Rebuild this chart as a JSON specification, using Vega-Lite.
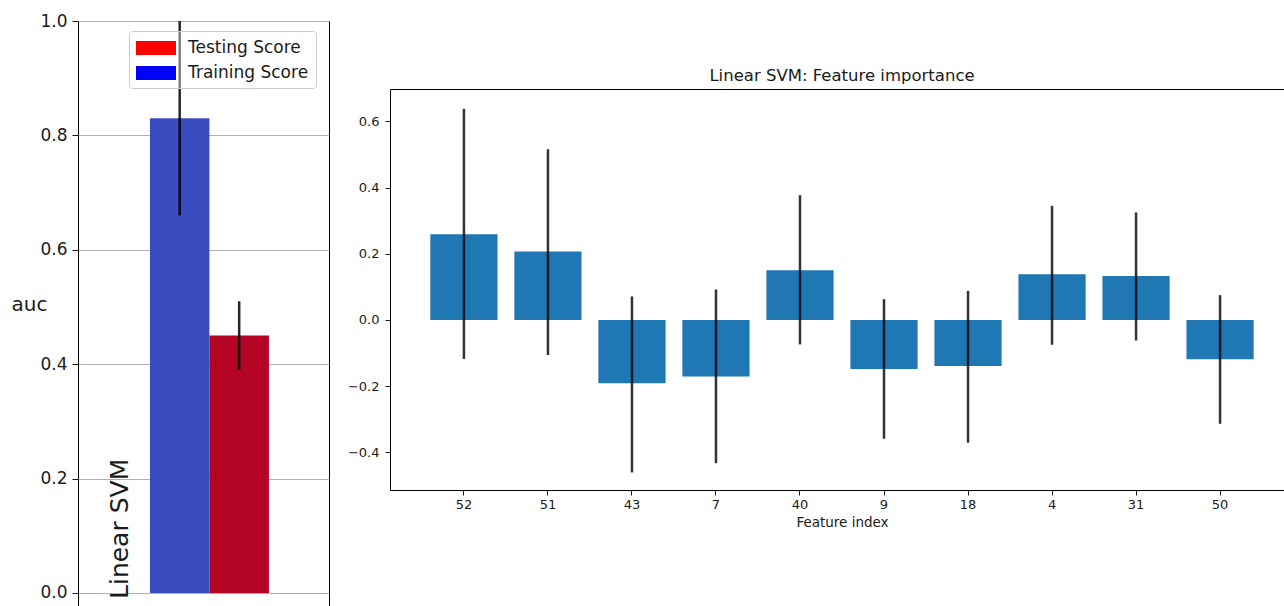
{
  "$schema": "https://vega.github.io/schema/vega-lite/v6.json",
  "background": "white",
  "padding": {"left": 10, "top": 11, "right": 0, "bottom": 0},
  "spacing": 16,
  "config": {
    "font": "DejaVu Sans",
    "view": {"stroke": "black", "strokeWidth": 1},
    "axis": {"labelFont": "DejaVu Sans", "titleFont": "DejaVu Sans", "labelColor": "#1a1a1a", "titleColor": "#1a1a1a", "tickColor": "#1a1a1a", "domain": false, "titleFontWeight": "normal"},
    "legend": {"labelFont": "DejaVu Sans"},
    "title": {"font": "DejaVu Sans"}
  },
  "hconcat": [
    {
      "width": 251,
      "height": 600,
      "data": {"values": [
        {"model": "Linear SVM", "score": "Training Score", "auc": 0.83, "lo": 0.66, "hi": 1.0},
        {"model": "Linear SVM", "score": "Testing Score", "auc": 0.45, "lo": 0.39, "hi": 0.51}
      ]},
      "layer": [
        {
          "mark": {"type": "bar"},
          "encoding": {
            "x": {"field": "model", "type": "nominal", "axis": null, "scale": {"paddingInner": 0, "paddingOuter": 0.5546, "align": 0.545}},
            "xOffset": {"field": "score", "type": "nominal", "scale": {"domain": ["Training Score", "Testing Score"], "paddingInner": 0, "paddingOuter": 0}},
            "y": {"field": "auc", "type": "quantitative", "scale": {"domain": [-0.049, 1.0], "nice": false},
              "axis": {"title": "auc", "titleAngle": 0, "titleX": -49, "titleY": 283, "titleAlign": "center", "titleBaseline": "middle", "titleFontSize": 20,
                "values": [0, 0.2, 0.4, 0.6, 0.8, 1.0], "format": ".1f", "labelFontSize": 17, "tickSize": 6, "labelPadding": 5,
                "grid": true, "gridColor": "#b0b0b0", "gridWidth": 1.2}},
            "color": {"condition": {"test": "datum.score === 'Training Score'", "value": "#3b4cc0"}, "value": "#b40426"}
          }
        },
        {
          "mark": {"type": "bar", "strokeWidth": 0},
          "encoding": {
            "x": {"field": "model", "type": "nominal"},
            "xOffset": {"field": "score", "type": "nominal"},
            "y": {"datum": 0},
            "y2": {"datum": 0},
            "color": {"field": "score", "type": "nominal",
              "scale": {"domain": ["Testing Score", "Training Score"], "range": ["#ff0000", "#0000ff"]},
              "legend": {"title": null, "orient": "none", "legendX": 51, "legendY": 10,
                "symbolType": "M-1,-0.7H3V0.7H-1Z", "symbolSize": 400, "symbolStrokeWidth": 0, "symbolOpacity": 1,
                "labelFontSize": 17, "labelColor": "#1a1a1a", "labelOffset": 32, "padding": 7, "rowPadding": 7,
                "strokeColor": "#cccccc", "fillColor": "rgba(255,255,255,0.4)", "cornerRadius": 3}}
          }
        },
        {
          "mark": {"type": "rule", "color": "black", "strokeWidth": 2.5, "opacity": 0.85},
          "encoding": {
            "x": {"field": "model", "type": "nominal"},
            "xOffset": {"field": "score", "type": "nominal"},
            "y": {"field": "lo", "type": "quantitative"},
            "y2": {"field": "hi"}
          }
        },
        {
          "data": {"values": [{"model": "Linear SVM"}]},
          "mark": {"type": "text", "angle": 270, "align": "left", "baseline": "alphabetic", "fontSize": 25, "dy": -81.5, "color": "#1a1a1a"},
          "encoding": {
            "x": {"field": "model", "type": "nominal"},
            "y": {"datum": -0.0105},
            "text": {"field": "model"}
          }
        }
      ]
    },
    {
      "spacing": 0,
      "vconcat": [
        {
          "width": 904,
          "height": 46,
          "view": {"stroke": null},
          "data": {"values": [{"blank": ""}]},
          "mark": {"type": "text"},
          "encoding": {"text": {"field": "blank"}}
        },
        {
          "width": 904,
          "height": 401,
          "title": {"text": "Linear SVM: Feature importance", "fontSize": 16.5, "fontWeight": "normal", "offset": 5, "anchor": "middle", "color": "#1a1a1a"},
          "data": {"values": [
            {"feature": "52", "imp": 0.259, "lo": -0.118, "hi": 0.638},
            {"feature": "51", "imp": 0.207, "lo": -0.106, "hi": 0.516},
            {"feature": "43", "imp": -0.191, "lo": -0.461, "hi": 0.071},
            {"feature": "7", "imp": -0.171, "lo": -0.433, "hi": 0.092},
            {"feature": "40", "imp": 0.150, "lo": -0.074, "hi": 0.377},
            {"feature": "9", "imp": -0.148, "lo": -0.359, "hi": 0.063},
            {"feature": "18", "imp": -0.139, "lo": -0.371, "hi": 0.088},
            {"feature": "4", "imp": 0.138, "lo": -0.075, "hi": 0.345},
            {"feature": "31", "imp": 0.133, "lo": -0.062, "hi": 0.325},
            {"feature": "50", "imp": -0.119, "lo": -0.314, "hi": 0.075}
          ]},
          "layer": [
            {
              "mark": {"type": "bar", "color": "#1f77b4"},
              "encoding": {
                "x": {"field": "feature", "type": "nominal", "sort": null, "scale": {"paddingInner": 0.2, "paddingOuter": 0.48},
                  "axis": {"title": "Feature index", "labelAngle": 0, "labelFontSize": 13, "titleFontSize": 13.5, "tickSize": 5, "labelPadding": 3, "titlePadding": 4}},
                "y": {"field": "imp", "type": "quantitative", "scale": {"domain": [-0.514, 0.698], "nice": false},
                  "axis": {"title": null, "values": [-0.4, -0.2, 0, 0.2, 0.4, 0.6], "format": ".1f", "labelFontSize": 13, "grid": false, "tickSize": 5, "labelPadding": 6}}
              }
            },
            {
              "mark": {"type": "rule", "color": "black", "strokeWidth": 2.5, "opacity": 0.8},
              "encoding": {
                "x": {"field": "feature", "type": "nominal", "sort": null},
                "y": {"field": "lo", "type": "quantitative"},
                "y2": {"field": "hi"}
              }
            }
          ]
        }
      ]
    }
  ]
}
